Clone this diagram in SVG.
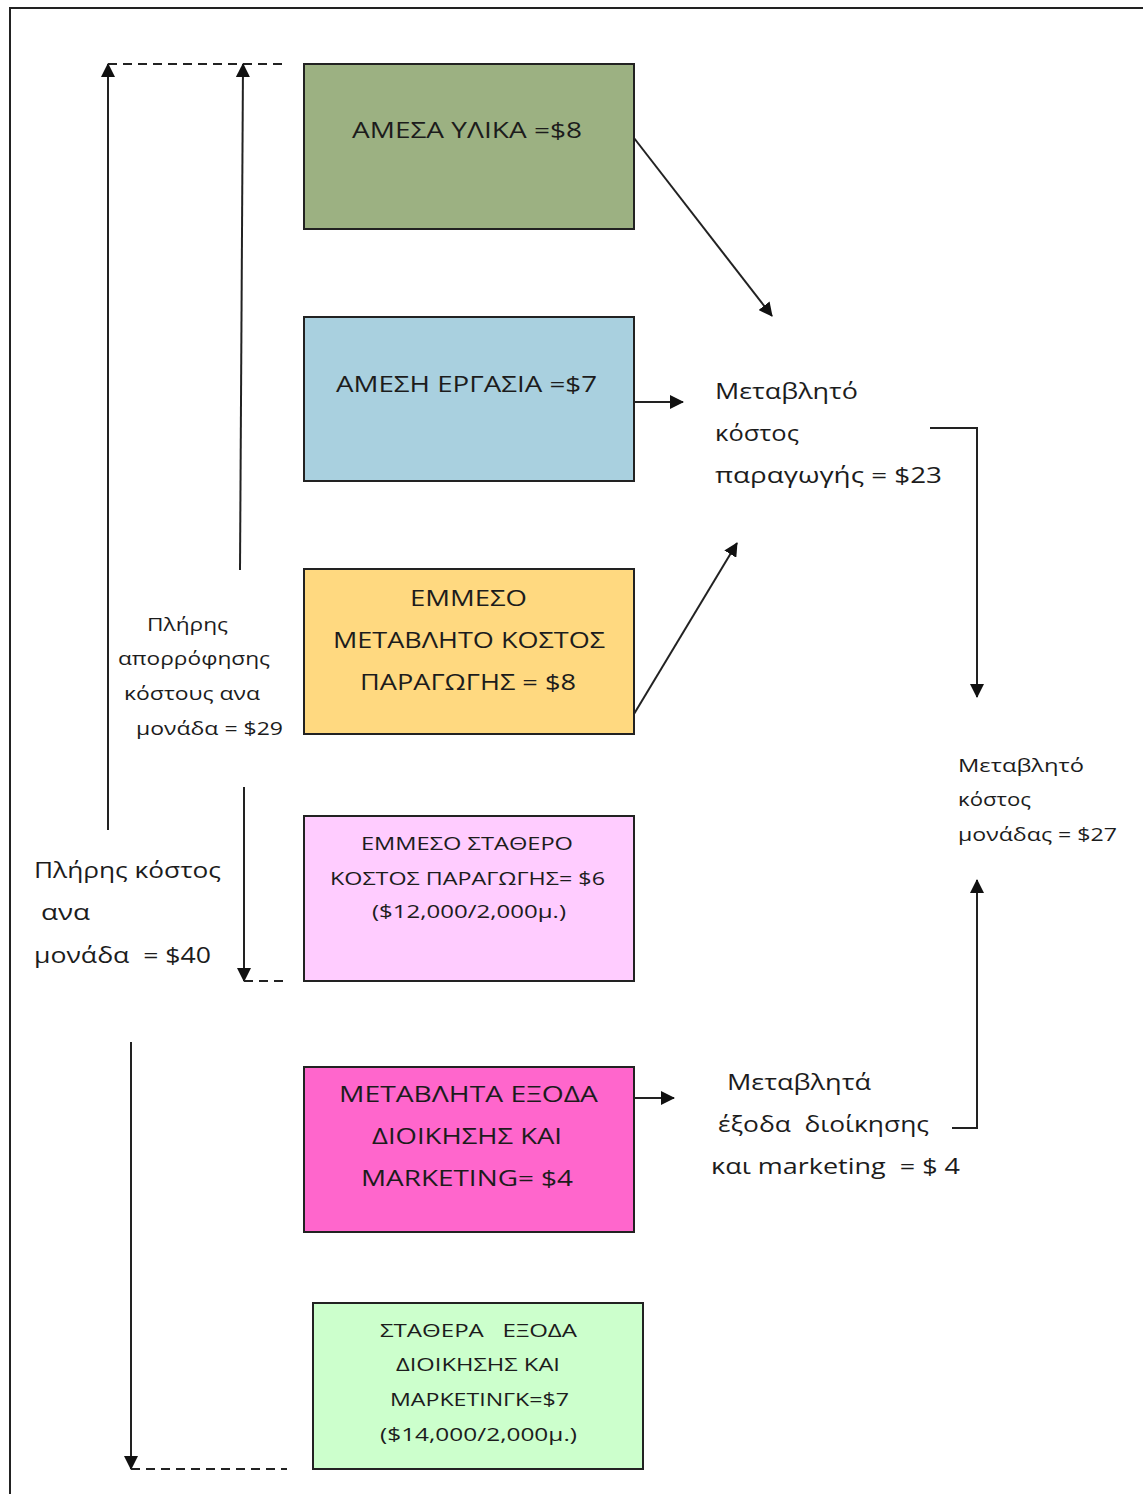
<svg xmlns="http://www.w3.org/2000/svg" width="1143" height="1494" viewBox="0 0 1143 1494">
<style>
.box{stroke:#222;stroke-width:2}
.t{font-family:"Open Sans","Noto Sans",sans-serif;fill:#1c1c1c}
.big{font-size:22px}
.sm{font-size:19px}
.c{text-anchor:middle}
.ln{stroke:#222;stroke-width:2;fill:none}
.dash{stroke:#222;stroke-width:2;stroke-dasharray:9 6;fill:none}
</style>
<defs>
<marker id="ah" viewBox="0 0 14 14" refX="13" refY="7" markerWidth="14" markerHeight="14" markerUnits="userSpaceOnUse" orient="auto">
<path d="M0,0 L14,7 L0,14 z" fill="#111"/>
</marker>
</defs>
<rect width="1143" height="1494" fill="#fff"/>
<path d="M10,1494 L10,8 L1143,8" class="ln" stroke-width="2"/>

<g id="n1">
<rect class="box" x="304" y="64" width="330" height="165" fill="#9cb182"/>
<text class="t big" x="352" y="138" textLength="230" lengthAdjust="spacingAndGlyphs">ΑΜΕΣΑ ΥΛΙΚΑ =$8</text>
</g>
<g id="n2">
<rect class="box" x="304" y="317" width="330" height="164" fill="#a9d0df"/>
<text class="t big" x="336" y="392" textLength="261" lengthAdjust="spacingAndGlyphs">ΑΜΕΣΗ ΕΡΓΑΣΙΑ =$7</text>
</g>
<g id="n3">
<rect class="box" x="304" y="569" width="330" height="165" fill="#ffd980"/>
<text class="t big" x="410" y="606" textLength="117" lengthAdjust="spacingAndGlyphs">ΕΜΜΕΣΟ</text>
<text class="t big" x="333" y="648" textLength="272" lengthAdjust="spacingAndGlyphs">ΜΕΤΑΒΛΗΤΟ ΚΟΣΤΟΣ</text>
<text class="t big" x="360" y="690" textLength="216" lengthAdjust="spacingAndGlyphs">ΠΑΡΑΓΩΓΗΣ = $8</text>
</g>
<g id="n4">
<rect class="box" x="304" y="816" width="330" height="165" fill="#ffccff"/>
<text class="t sm" x="361" y="850" textLength="212" lengthAdjust="spacingAndGlyphs">ΕΜΜΕΣΟ ΣΤΑΘΕΡΟ</text>
<text class="t sm" x="330" y="885" textLength="275" lengthAdjust="spacingAndGlyphs">ΚΟΣΤΟΣ ΠΑΡΑΓΩΓΗΣ= $6</text>
<text class="t sm" x="372" y="918" textLength="194" lengthAdjust="spacingAndGlyphs">($12,000/2,000μ.)</text>
</g>
<g id="n5">
<rect class="box" x="304" y="1067" width="330" height="165" fill="#ff66cc"/>
<text class="t big" x="339" y="1102" textLength="259" lengthAdjust="spacingAndGlyphs">ΜΕΤΑΒΛΗΤΑ ΕΞΟΔΑ</text>
<text class="t big" x="372" y="1144" textLength="190" lengthAdjust="spacingAndGlyphs">ΔΙΟΙΚΗΣΗΣ ΚΑΙ</text>
<text class="t big" x="361" y="1186" textLength="212" lengthAdjust="spacingAndGlyphs">MARKETING= $4</text>
</g>
<g id="n6">
<rect class="box" x="313" y="1303" width="330" height="166" fill="#ccffcc"/>
<text class="t sm" x="380" y="1337" textLength="197" lengthAdjust="spacingAndGlyphs" xml:space="preserve">ΣΤΑΘΕΡΑ   ΕΞΟΔΑ</text>
<text class="t sm" x="396" y="1371" textLength="164" lengthAdjust="spacingAndGlyphs">ΔΙΟΙΚΗΣΗΣ ΚΑΙ</text>
<text class="t sm" x="390" y="1406" textLength="179" lengthAdjust="spacingAndGlyphs">ΜΑΡΚΕΤΙΝΓΚ=$7</text>
<text class="t sm" x="380" y="1441" textLength="197" lengthAdjust="spacingAndGlyphs">($14,000/2,000μ.)</text>
</g>

<g id="lbl-var-prod">
<text class="t big" x="715" y="399" textLength="143" lengthAdjust="spacingAndGlyphs">Μεταβλητό</text>
<text class="t big" x="715" y="441" textLength="84" lengthAdjust="spacingAndGlyphs">κόστος</text>
<text class="t big" x="715" y="483" textLength="227" lengthAdjust="spacingAndGlyphs">παραγωγής = $23</text>
</g>
<g id="lbl-absorb">
<text class="t sm" x="147" y="631" textLength="81" lengthAdjust="spacingAndGlyphs">Πλήρης</text>
<text class="t sm" x="118" y="665" textLength="152" lengthAdjust="spacingAndGlyphs">απορρόφησης</text>
<text class="t sm" x="124" y="700" textLength="136" lengthAdjust="spacingAndGlyphs">κόστους ανα</text>
<text class="t sm" x="136" y="735" textLength="147" lengthAdjust="spacingAndGlyphs">μονάδα = $29</text>
</g>
<g id="lbl-full">
<text class="t big" x="34" y="878" textLength="187" lengthAdjust="spacingAndGlyphs">Πλήρης κόστος</text>
<text class="t big" x="41" y="920" textLength="49" lengthAdjust="spacingAndGlyphs">ανα</text>
<text class="t big" x="34" y="963" textLength="177" lengthAdjust="spacingAndGlyphs" xml:space="preserve">μονάδα  = $40</text>
</g>
<g id="lbl-var-unit">
<text class="t sm" x="958" y="772" textLength="126" lengthAdjust="spacingAndGlyphs">Μεταβλητό</text>
<text class="t sm" x="958" y="806" textLength="73" lengthAdjust="spacingAndGlyphs">κόστος</text>
<text class="t sm" x="958" y="841" textLength="159" lengthAdjust="spacingAndGlyphs">μονάδας = $27</text>
</g>
<g id="lbl-var-adm">
<text class="t big" x="727" y="1090" textLength="144" lengthAdjust="spacingAndGlyphs">Μεταβλητά</text>
<text class="t big" x="718" y="1132" textLength="211" lengthAdjust="spacingAndGlyphs" xml:space="preserve">έξοδα  διοίκησης</text>
<text class="t big" x="711" y="1174" textLength="249" lengthAdjust="spacingAndGlyphs" xml:space="preserve">και marketing  = $ 4</text>
</g>

<g id="connectors">
<line class="ln" x1="634" y1="138" x2="772" y2="316" marker-end="url(#ah)"/>
<line class="ln" x1="634" y1="402" x2="683" y2="402" marker-end="url(#ah)"/>
<line class="ln" x1="634" y1="714" x2="737" y2="543" marker-end="url(#ah)"/>
<polyline class="ln" points="930,428 977,428 977,697" marker-end="url(#ah)"/>
<polyline class="ln" points="952,1128 977,1128 977,880" marker-end="url(#ah)"/>
<line class="ln" x1="634" y1="1098" x2="674" y2="1098" marker-end="url(#ah)"/>
<line class="ln" x1="108" y1="830" x2="108" y2="64" marker-end="url(#ah)"/>
<line class="dash" x1="108" y1="64" x2="287" y2="64"/>
<line class="ln" x1="240" y1="570" x2="243" y2="64" marker-end="url(#ah)"/>
<line class="ln" x1="244" y1="787" x2="244" y2="981" marker-end="url(#ah)"/>
<line class="dash" x1="244" y1="981" x2="287" y2="981"/>
<line class="ln" x1="131" y1="1042" x2="131" y2="1469" marker-end="url(#ah)"/>
<line class="dash" x1="131" y1="1469" x2="287" y2="1469"/>
</g>
</svg>
